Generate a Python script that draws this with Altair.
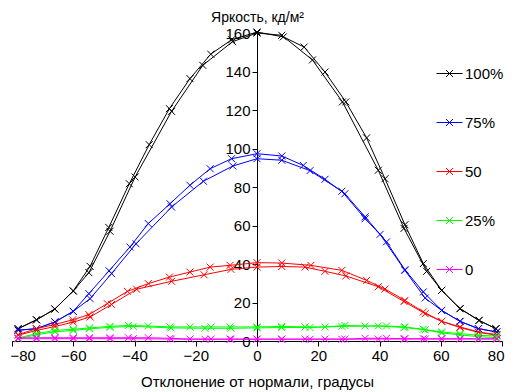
import altair as alt
import pandas as pd

FONT = "Liberation Sans, Arial, sans-serif"

series_names = ["100%", "75%", "50", "25%", "0"]
series_colors = ["#000000", "#0000FF", "#FF0000", "#00FF00", "#FF00FF"]

x_ticks = [-80, -60, -40, -20, 0, 20, 40, 60, 80]
y_ticks = [0, 20, 40, 60, 80, 100, 120, 140, 160]

# 100% - two measurement directions
deg_100a = [-78, -72, -66, -60, -54.5, -48.4, -41.7, -35.2, -28.6, -21.9, -15.1, -8.3, 0, 8.6, 15.4, 22.2, 29, 35.8, 41.8, 48.3, 54.3, 60.3, 66.3, 72.5, 78]
val_100a = [6.4, 11, 16.6, 26, 38.8, 59, 81.7, 102, 120.7, 136.3, 149, 156.5, 160.5, 158, 152.7, 139.7, 124.2, 105.5, 84.3, 60.4, 40.2, 26.3, 16.8, 10.7, 6.4]
deg_100b = [-78, -72, -66, -60, -54.9, -48, -39.8, -27.9, -17.7, -8, 0, 8.1, 18.1, 27.9, 39.6, 48, 55.4, 60.3, 66.3, 72.5, 78]
val_100b = [6.4, 11, 16.6, 26, 35.5, 57, 85.2, 119.3, 143.2, 155.5, 160, 158.8, 146, 124.2, 88.7, 58.5, 36.2, 26.3, 16.8, 10.7, 6.4]

# 75%
deg_75a = [-78, -72, -66, -60, -54.9, -48.3, -41.5, -35.5, -28.4, -21.9, -15.3, -8.3, 0, 8.1, 15.1, 22.2, 28.7, 35.3, 42.3, 48.3, 54.3, 60.3, 66.3, 72.3, 78.3]
val_75a = [5.6, 6.4, 9.9, 15.4, 24.6, 36.5, 48.8, 61, 71.3, 80.9, 89.5, 94.7, 97.3, 96.1, 91.2, 84, 76.5, 64.5, 51.5, 37, 25.5, 15.9, 10.2, 6.4, 4.7]
deg_75b = [-78, -72, -66, -60, -54.5, -47.5, -39.5, -27.9, -17.5, -7.9, 0, 8.1, 17.3, 27.7, 35.3, 40.2, 48.3, 54.9, 60.3, 66.3, 72.3, 78.3]
val_75b = [5.6, 6.4, 9.9, 15.4, 22, 35, 50.5, 69.6, 83, 90.9, 94.7, 93.9, 88.5, 77.8, 63.5, 55.4, 36.7, 22.3, 15.9, 10.2, 6.4, 4.7]

# 50
deg_50a = [-78, -72, -66.2, -60.2, -54.9, -48.9, -42.3, -35.5, -28.6, -21.9, -15.3, -8.8, 0, 8.1, 17.6, 27.7, 35.8, 41.8, 48.3, 54.3, 60.3, 66.3, 72.3, 78.3]
val_50a = [3.3, 6.4, 8.5, 11, 13.7, 19.4, 25.8, 29.8, 33.2, 35.8, 38.4, 39.3, 40.7, 40.5, 39.3, 36.7, 31.5, 27, 21.1, 15.1, 10.2, 7.3, 4.7, 3.3]
deg_50b = [-78, -72, -66, -60, -54.5, -47.5, -39.3, -27.9, -17.3, -8.5, 0, 8.1, 15.7, 22.2, 29, 39.6, 48, 54.9, 60.3, 66.3, 72.3, 78.3]
val_50b = [3.0, 5.5, 7.5, 9.8, 12.5, 19, 26.9, 31, 34.4, 37.2, 38.4, 38.7, 38.4, 36.2, 33.8, 28.2, 20.5, 14.2, 10.2, 7.0, 4.5, 3.0]

# 25%
deg_25a = [-78, -72, -66, -60, -54.7, -48, -42, -35.5, -28.4, -21.9, -15, -8.8, 0, 8.1, 15.7, 22.2, 28.7, 35.3, 42.3, 48.3, 54.3, 60.3, 66.3, 72.3, 78.3]
val_25a = [1.6, 3.8, 5.5, 6.1, 6.8, 7.6, 8.1, 7.8, 7.3, 7.3, 7.3, 7.3, 7.3, 7.6, 7.3, 7.3, 8.1, 7.8, 7.8, 7.3, 6.1, 4.7, 3.8, 3.0, 2.6]
deg_25b = [-78, -72, -66, -60, -54.7, -48, -40.4, -28, -17, -8.5, 0, 8, 17.3, 27.7, 39.6, 48, 54.9, 60.3, 66.3, 72.3, 78.3]
val_25b = [1.2, 3.2, 4.8, 5.5, 6.3, 7.1, 7.6, 6.8, 6.6, 6.6, 6.8, 7.0, 7.0, 7.6, 7.8, 7.0, 5.8, 4.2, 3.2, 2.2, 1.8]

# 0
deg_0a = [-78, -72, -66, -60, -54.7, -48, -42, -35.5, -28.4, -21.9, -15, -8.8, 0, 8.1, 15.7, 22.2, 28.7, 35.3, 42.3, 48.3, 54.3, 60.3, 66.3, 72.3, 78.3]
val_0a = [1.6, 1.7, 1.7, 1.7, 1.7, 1.7, 1.7, 1.7, 1.4, 1.0, 1.0, 1.0, 1.0, 1.0, 1.0, 1.0, 1.0, 1.4, 1.4, 1.2, 1.2, 1.2, 1.2, 1.2, 1.2]
deg_0b = [-78, -72, -66, -60, -54.7, -48, -40.4, -28, -17, -8.5, 0, 8, 17.3, 27.7, 39.6, 48, 54.9, 60.3, 66.3, 72.3, 78.3]
val_0b = [1.2, 1.2, 1.2, 1.2, 1.2, 1.2, 1.2, 1.0, 0.9, 0.9, 0.9, 0.9, 0.9, 0.9, 1.0, 1.0, 1.0, 1.0, 1.0, 1.0, 1.0]

curves = [
    ("100%", "a", deg_100a, val_100a), ("100%", "b", deg_100b, val_100b),
    ("75%", "a", deg_75a, val_75a), ("75%", "b", deg_75b, val_75b),
    ("50", "a", deg_50a, val_50a), ("50", "b", deg_50b, val_50b),
    ("25%", "a", deg_25a, val_25a), ("25%", "b", deg_25b, val_25b),
    ("0", "a", deg_0a, val_0a), ("0", "b", deg_0b, val_0b),
]
rows = []
for s, c, ds, vs in curves:
    for d, v in zip(ds, vs):
        rows.append({"deg": d, "val": v, "series": s, "curve": s + c})
df = pd.DataFrame(rows)

XSHAPE = "M-1,-1L1,1M-1,1L1,-1"
LEGSHAPE = "M-1,0H1M-0.27,-0.27L0.27,0.27M-0.27,0.27L0.27,-0.27"

x_enc = alt.X("deg:Q", scale=alt.Scale(domain=[-80, 80], nice=False, zero=False),
              axis=alt.Axis(values=x_ticks, title="Отклонение от нормали, градусы", grid=False,
                            tickSize=5, labelFontSize=15, titleFontSize=15, labelPadding=2,
                            titlePadding=11, labelFlush=True, labelFlushOffset=2,
                            titleFontWeight="normal"))
y_enc = alt.Y("val:Q", scale=alt.Scale(domain=[0, 160], nice=False),
              axis=alt.Axis(values=y_ticks, offset=-245, grid=False, tickSize=5,
                            labelFontSize=15, labelPadding=2,
                            title="Яркость, кд/м²", titleAngle=0, titleX=0, titleY=-12,
                            titleAlign="center", titleBaseline="alphabetic",
                            titleFontSize=14, titleFontWeight="normal"))
legend = alt.Legend(title=None, orient="none", legendX=424, legendY=27,
                    symbolType=LEGSHAPE, symbolSize=676, symbolStrokeWidth=1,
                    labelFontSize=15, labelFont=FONT, labelOffset=2, rowPadding=27,
                    padding=0, labelColor="black")
c_enc = alt.Color("series:N", scale=alt.Scale(domain=series_names, range=series_colors),
                  sort=series_names, legend=legend)

base = alt.Chart(df)
lines = base.mark_line(strokeWidth=1).encode(x=x_enc, y=y_enc, color=c_enc, detail="curve:N")
pts = base.mark_point(shape=XSHAPE, size=49, filled=False, strokeWidth=1, opacity=1).encode(
    x=x_enc, y=y_enc, color=c_enc, detail="curve:N")

chart = alt.layer(lines, pts).properties(
    width=490, height=308,
    autosize=alt.AutoSizeParams(type="none"),
    padding={"left": 4, "top": 25, "right": 3, "bottom": 53},
    background="white",
).configure_view(stroke=None).configure_axis(
    labelFont=FONT, titleFont=FONT, labelColor="black", titleColor="black",
    domainColor="black", tickColor="black", domainWidth=1, tickWidth=1,
)

chart.save("out.html", embed_options={"renderer": "svg", "actions": False})
